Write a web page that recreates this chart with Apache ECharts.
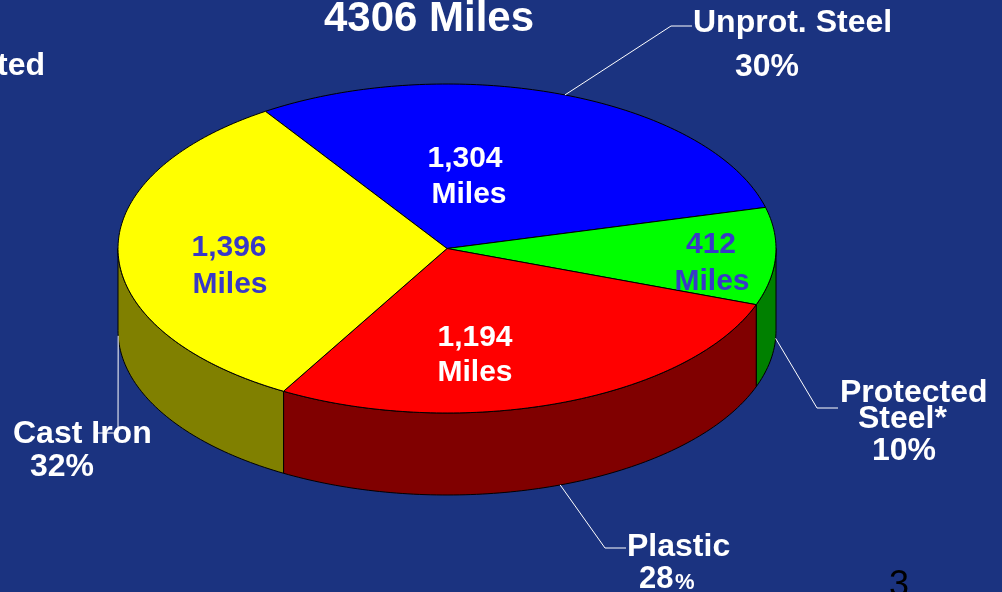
<!DOCTYPE html>
<html>
<head>
<meta charset="utf-8">
<script src="https://cdn.jsdelivr.net/npm/echarts@6/dist/echarts.min.js"></script>
<style>
html,body{margin:0;padding:0;background:#1b3380;}
#c{width:1002px;height:592px;}
</style>
</head>
<body>
<div id="c"></div>
<script>
// ---- data ----
const categories = ['Unprot. Steel', 'Protected Steel*', 'Plastic', 'Cast Iron'];
const labelLines = [['Unprot. Steel'], ['Protected', 'Steel*'], ['Plastic'], ['Cast Iron']];
const miles = [1304, 412, 1194, 1396];
const unit = 'Miles';

// ---- styles / layout ----
const topColors = ['#0000ff', '#00ff00', '#ff0000', '#ffff00'];
const sideColors = ['#000080', '#008000', '#800000', '#808000'];
const valueColors = ['#ffffff', '#3838c8', '#ffffff', '#3838c8'];
const PIE = { cx: 447, cy: 248.5, rx: 329, ry: 164.5, depth: 82, start: 236.5 };
const FONT = '"Liberation Sans", Arial, Helvetica, sans-serif';
const DY = 1.5;

const total = miles.reduce((a, b) => a + b, 0);
const angles = [];
(function () {
  let acc = 0;
  miles.forEach(v => {
    const s = PIE.start + acc / total * 360;
    acc += v;
    const e = PIE.start + acc / total * 360;
    angles.push([s, e]);
  });
})();

function pointAt(deg, dz) {
  const a = deg * Math.PI / 180;
  return [PIE.cx + PIE.rx * Math.cos(a), PIE.cy + PIE.ry * Math.sin(a) + (dz || 0)];
}
function arcPts(a0, a1, dz) {
  const n = Math.max(2, Math.ceil(Math.abs(a1 - a0)));
  const pts = [];
  for (let i = 0; i <= n; i++) pts.push(pointAt(a0 + (a1 - a0) * i / n, dz));
  return pts;
}

function renderSide(params, api) {
  const i = params.dataIndex;
  const [s, e] = angles[i];
  const children = [];
  for (let k = -1; k <= 2; k++) {
    const lo = Math.max(s, k * 360), hi = Math.min(e, k * 360 + 180);
    if (hi > lo) {
      const top = arcPts(lo, hi, 0);
      const bot = arcPts(hi, lo, PIE.depth);
      children.push({
        type: 'polygon',
        shape: { points: top.concat(bot) },
        style: { fill: sideColors[i], stroke: '#000', lineWidth: 1 }
      });
    }
  }
  return { type: 'group', children };
}

function renderTop(params, api) {
  const i = params.dataIndex;
  const [s, e] = angles[i];
  const pts = [[PIE.cx, PIE.cy]].concat(arcPts(s, e, 0));
  return {
    type: 'polygon',
    shape: { points: pts },
    style: { fill: topColors[i], stroke: '#000', lineWidth: 1 }
  };
}

// leader lines: start at slice mid-angle on the pie edge, then elbow and end
const leaderLayout = [
  { dz: 0, elbow: [671, 26], end: [692, 26] },
  { dz: 1, elbow: [817, 408], end: [838, 408] },
  { dz: 1, elbow: [605, 548], end: [626, 548] },
  { dz: 1, elbow: [118, 433], end: [97, 433] }
];
function renderLeader(params, api) {
  const i = params.dataIndex;
  const [s, e] = angles[i];
  const L = leaderLayout[i];
  const p0 = pointAt((s + e) / 2, L.dz * PIE.depth);
  return {
    type: 'polyline',
    shape: { points: [p0, L.elbow, L.end] },
    style: { stroke: '#ffffff', lineWidth: 1, fill: null }
  };
}

// ---- text ----
const fmt = n => n.toLocaleString('en-US');
const pct = v => Math.round(v / total * 100);
function txt(text, x, y, size, opts) {
  opts = opts || {};
  return {
    type: 'text', z: 100,
    style: {
      text: text, x: x, y: y + DY,
      fill: opts.fill || '#ffffff',
      font: (opts.weight || 'bold') + ' ' + size + 'px ' + FONT,
      textAlign: opts.align || 'left',
      textVerticalAlign: opts.valign || 'middle'
    }
  };
}
const valuePos = [[465, 157, 469, 193], [711, 243, 712, 280], [475, 336, 475, 371], [229, 246, 230, 283]];
const graphics = [];
graphics.push(txt(total + ' ' + unit, 429, 18, 42, { align: 'center' }));
graphics.push(txt('Protected', 45, 65, 32, { align: 'right' }));
miles.forEach((v, i) => {
  const p = valuePos[i];
  graphics.push(txt(fmt(v), p[0], p[1], 30, { align: 'center', fill: valueColors[i] }));
  graphics.push(txt(unit, p[2], p[3], 30, { align: 'center', fill: valueColors[i] }));
});
// outside labels
graphics.push(txt(labelLines[0][0], 693, 22, 32));
graphics.push(txt(pct(miles[0]) + '%', 767, 66, 32, { align: 'center' }));
graphics.push(txt(labelLines[1][0], 840, 392, 32));
graphics.push(txt(labelLines[1][1], 858, 418, 32));
graphics.push(txt(pct(miles[1]) + '%', 904, 449.5, 32, { align: 'center' }));
graphics.push(txt(labelLines[2][0], 627, 545.5, 32));
graphics.push(txt(String(pct(miles[2])), 639, 578, 31));
graphics.push(txt('%', 675, 581, 22));
graphics.push(txt(labelLines[3][0], 13, 432.5, 32));
graphics.push(txt(pct(miles[3]) + '%', 62, 466, 32, { align: 'center' }));
graphics.push(txt('3', 899, 585, 36, { align: 'center', weight: 'normal', fill: '#000000' }));

const chart = echarts.init(document.getElementById('c'), null, { renderer: 'canvas' });
const seriesData = miles.map((v, i) => ({ name: categories[i], value: v }));
chart.setOption({
  backgroundColor: '#1b3380',
  animation: false,
  series: [
    { type: 'custom', coordinateSystem: 'none', z: 1, renderItem: renderSide, data: seriesData, silent: true },
    { type: 'custom', coordinateSystem: 'none', z: 2, renderItem: renderTop, data: seriesData, silent: true },
    { type: 'custom', coordinateSystem: 'none', z: 3, renderItem: renderLeader, data: seriesData, silent: true }
  ],
  graphic: graphics
});
</script>
</body>
</html>
